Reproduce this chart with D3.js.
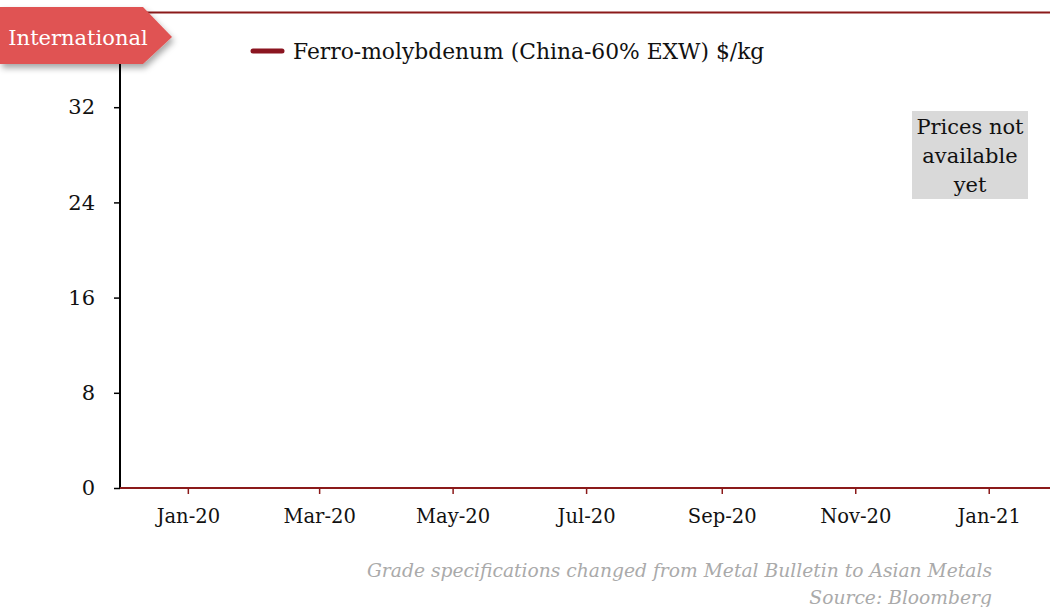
<!DOCTYPE html>
<html><head><meta charset="utf-8">
<script src="https://cdn.jsdelivr.net/npm/d3@7"></script>
<style>
body{margin:0;background:#fff;}
svg{display:block;font-family:"DejaVu Serif","Liberation Serif",serif;}
</style></head>
<body><svg id="c" width="1050" height="607"></svg>
<script>
const xTickLabels = ["Jan-20","Mar-20","May-20","Jul-20","Sep-20","Nov-20","Jan-21"];
const xTickDates = ["2020-01-01","2020-03-01","2020-05-01","2020-07-01","2020-09-01","2020-11-01","2021-01-01"];
const xDomain = ["2019-12-01","2021-01-29"];
const yTicks = [0,8,16,24,32];
const yDomain = [0,40];
const seriesName = "Ferro-molybdenum (China-60% EXW) $/kg";
const seriesDates = [];
const seriesValues = [];
const noteLines = ["Prices not","available","yet"];
const footLines = ["Grade specifications changed from Metal Bulletin to Asian Metals","Source: Bloomberg"];

const FONT = "DejaVu Serif";
const parse = d3.utcParse("%Y-%m-%d");
const svg = d3.select("#c");
const L = 120, R = 1050, T = 12, B = 488;
const x = d3.scaleUtc().domain(xDomain.map(parse)).range([L, R]);
const y = d3.scaleLinear().domain(yDomain).range([B, T]);
const red = "#8B1A1A";

// top border
svg.append("line").attr("x1", L).attr("x2", R).attr("y1", T+0.5).attr("y2", T+0.5)
  .attr("stroke", red).attr("stroke-width", 2);

// y axis
const ya = svg.append("g").attr("transform", `translate(${L},0)`)
  .call(d3.axisLeft(y).tickValues(yTicks).tickSize(6).tickPadding(19).tickFormat(d3.format("d")))
  .attr("font-family", FONT).attr("font-size", 21);
ya.select(".domain").attr("stroke", "#000").attr("stroke-width", 2).attr("d", `M0,${T}V${B}`);
ya.selectAll(".tick line").attr("stroke", "#000").attr("stroke-width", 1.5);
ya.selectAll(".tick text").attr("fill", "#111");

// x axis
const xa = svg.append("g").attr("transform", `translate(0,${B})`)
  .call(d3.axisBottom(x).tickValues(xTickDates.map(parse)).tickSize(6).tickPadding(15)
    .tickFormat((d,i) => xTickLabels[i]))
  .attr("font-family", FONT).attr("font-size", 19.5);
xa.select(".domain").attr("stroke", red).attr("stroke-width", 2).attr("d", `M${L},0H${R}`);
xa.selectAll(".tick line").attr("stroke", red).attr("stroke-width", 1.5);
xa.selectAll(".tick text").attr("fill", "#111");

// series line (no data available)
const line = d3.line().x((d,i) => x(parse(seriesDates[i]))).y(d => y(d));
svg.append("path").datum(seriesValues).attr("d", line(seriesValues) || null)
  .attr("fill", "none").attr("stroke", red).attr("stroke-width", 3);

// legend
svg.append("line").attr("x1", 253).attr("x2", 282).attr("y1", 51).attr("y2", 51)
  .attr("stroke", "#8B1520").attr("stroke-width", 5).attr("stroke-linecap", "round");
svg.append("text").attr("x", 293).attr("y", 59).attr("font-size", 21.8).attr("fill", "#111").text(seriesName);

// International tag
const defs = svg.append("defs");
const f = defs.append("filter").attr("id", "sh").attr("x", "-20%").attr("y", "-20%").attr("width", "140%").attr("height", "160%");
f.append("feDropShadow").attr("dx", 2).attr("dy", 4).attr("stdDeviation", 3).attr("flood-color", "#000").attr("flood-opacity", 0.35);
svg.append("path").attr("d", "M0,7H143L172,37L143,64H0Z").attr("fill", "#E05252").attr("filter", "url(#sh)");
svg.append("text").attr("x", 78).attr("y", 45).attr("text-anchor", "middle").attr("font-size", 21)
  .attr("fill", "#fff").text("International");

// note box
svg.append("rect").attr("x", 912).attr("y", 111).attr("width", 116).attr("height", 88).attr("fill", "#D9D9D9");
svg.append("g").selectAll("text").data(noteLines).join("text")
  .attr("x", 970).attr("y", (d,i) => 134 + i*29).attr("text-anchor", "middle")
  .attr("font-size", 21).attr("fill", "#111").text(d => d);

// footer
svg.append("g").selectAll("text").data(footLines).join("text")
  .attr("x", 992).attr("y", (d,i) => 577 + i*27).attr("text-anchor", "end")
  .attr("font-size", 18.7).attr("font-style", "italic").attr("fill", "#AAAAAA").text(d => d);
</script></body></html>
